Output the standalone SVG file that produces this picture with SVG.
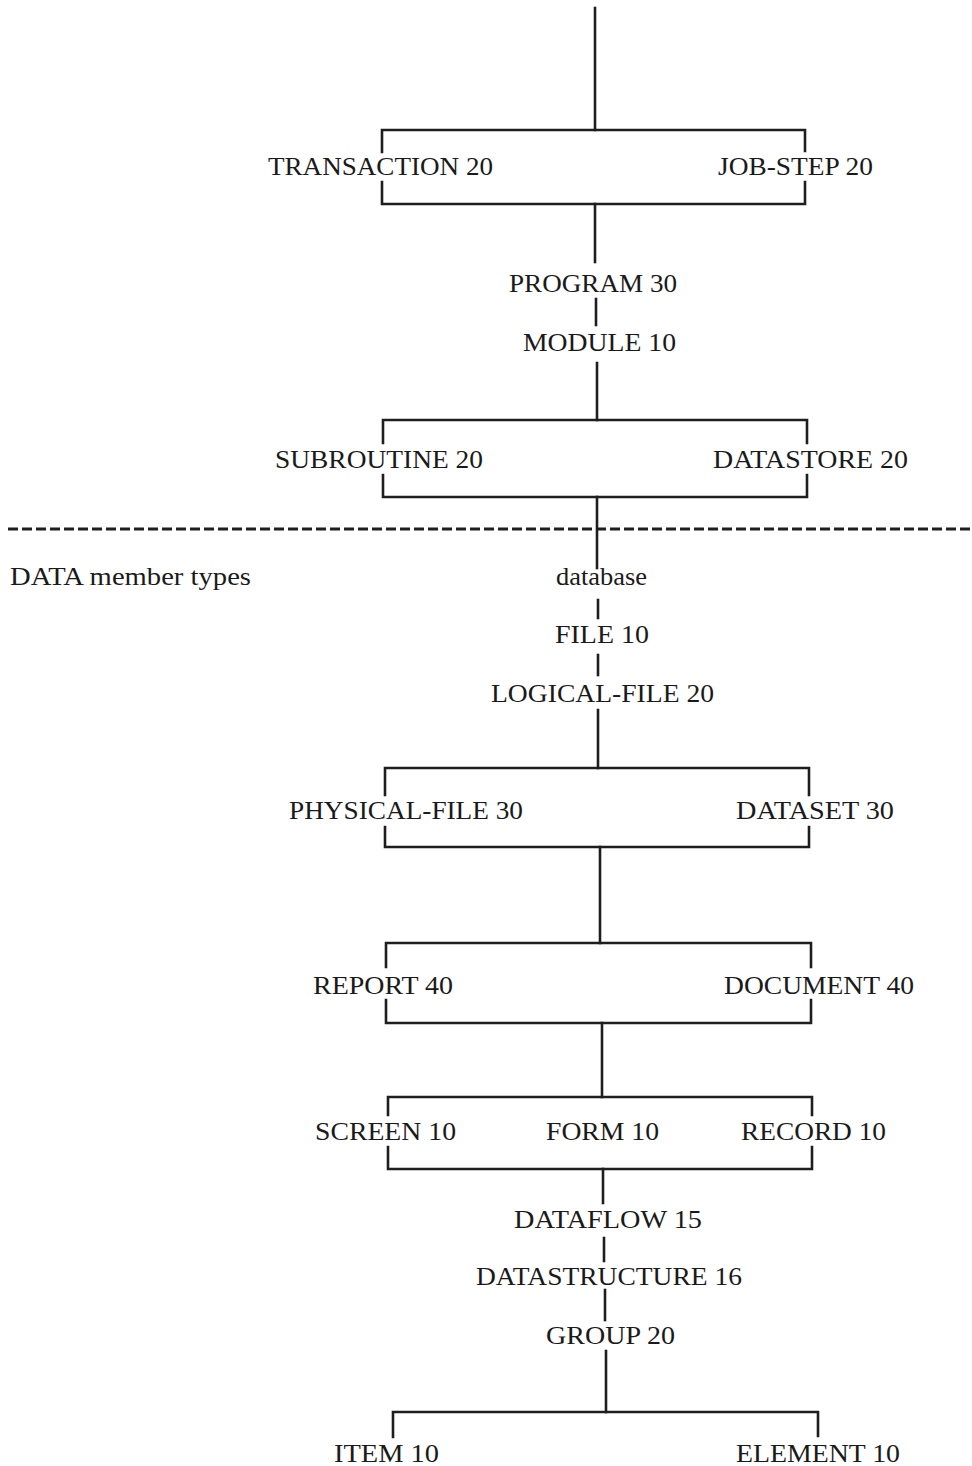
<svg xmlns="http://www.w3.org/2000/svg" width="972" height="1466" viewBox="0 0 972 1466">
<style>
.ln{stroke:#1e1e1e;stroke-width:2.6;fill:none;stroke-linecap:square}
.dash{stroke:#1e1e1e;stroke-width:3.2;fill:none;stroke-dasharray:10 4}
text{font-family:"Liberation Serif","Times New Roman",serif;font-size:26px;fill:#1a1a1a}
</style>
<rect width="972" height="1466" fill="#ffffff"/>
<g id="connectors">
  <line class="ln" x1="595" y1="8" x2="595" y2="130"/>
  <path class="ln" d="M382 152 V130 H805 V151"/>
  <path class="ln" d="M382 182 V204 H805 V182"/>
  <line class="ln" x1="595" y1="204" x2="595" y2="262"/>
  <line class="ln" x1="596" y1="299" x2="596" y2="325"/>
  <line class="ln" x1="597" y1="363" x2="597" y2="420"/>
  <path class="ln" d="M383 443 V420 H807 V443"/>
  <path class="ln" d="M383 475 V497 H807 V475"/>
  <line class="ln" x1="597" y1="497" x2="597" y2="568"/>
  <line class="dash" x1="8" y1="529" x2="972" y2="529"/>
  <line class="ln" x1="598" y1="600" x2="598" y2="618"/>
  <line class="ln" x1="598" y1="655" x2="598" y2="675"/>
  <line class="ln" x1="598" y1="710" x2="598" y2="768"/>
  <path class="ln" d="M385 795 V768 H809 V795"/>
  <path class="ln" d="M385 827 V847 H809 V827"/>
  <line class="ln" x1="600" y1="847" x2="600" y2="943"/>
  <path class="ln" d="M386 967 V943 H811 V967"/>
  <path class="ln" d="M386 1000 V1023 H811 V1000"/>
  <line class="ln" x1="602" y1="1023" x2="602" y2="1097"/>
  <path class="ln" d="M388 1115 V1097 H812 V1115"/>
  <path class="ln" d="M388 1147 V1169 H812 V1147"/>
  <line class="ln" x1="603" y1="1169" x2="603" y2="1203"/>
  <line class="ln" x1="604" y1="1238" x2="604" y2="1261"/>
  <line class="ln" x1="605" y1="1290" x2="605" y2="1320"/>
  <line class="ln" x1="606" y1="1351" x2="606" y2="1412"/>
  <path class="ln" d="M393 1437 V1412 H818 V1436"/>
</g>
<g id="n-transaction"><text x="268" y="175" textLength="225" lengthAdjust="spacingAndGlyphs">TRANSACTION 20</text></g>
<g id="n-jobstep"><text x="718" y="175" textLength="155" lengthAdjust="spacingAndGlyphs">JOB-STEP 20</text></g>
<g id="n-program"><text x="509" y="292" textLength="168" lengthAdjust="spacingAndGlyphs">PROGRAM 30</text></g>
<g id="n-module"><text x="523" y="351" textLength="153" lengthAdjust="spacingAndGlyphs">MODULE 10</text></g>
<g id="n-subroutine"><text x="275" y="468" textLength="208" lengthAdjust="spacingAndGlyphs">SUBROUTINE 20</text></g>
<g id="n-datastore"><text x="713" y="468" textLength="195" lengthAdjust="spacingAndGlyphs">DATASTORE 20</text></g>
<g id="n-datamember"><text x="10" y="585" textLength="241" lengthAdjust="spacingAndGlyphs">DATA member types</text></g>
<g id="n-database"><text x="556" y="585" textLength="91" lengthAdjust="spacingAndGlyphs">database</text></g>
<g id="n-file"><text x="555" y="643" textLength="94" lengthAdjust="spacingAndGlyphs">FILE 10</text></g>
<g id="n-logicalfile"><text x="491" y="702" textLength="223" lengthAdjust="spacingAndGlyphs">LOGICAL-FILE 20</text></g>
<g id="n-physicalfile"><text x="289" y="819" textLength="234" lengthAdjust="spacingAndGlyphs">PHYSICAL-FILE 30</text></g>
<g id="n-dataset"><text x="736" y="819" textLength="158" lengthAdjust="spacingAndGlyphs">DATASET 30</text></g>
<g id="n-report"><text x="313" y="994" textLength="140" lengthAdjust="spacingAndGlyphs">REPORT 40</text></g>
<g id="n-document"><text x="724" y="994" textLength="190" lengthAdjust="spacingAndGlyphs">DOCUMENT 40</text></g>
<g id="n-screen"><text x="315" y="1140" textLength="141" lengthAdjust="spacingAndGlyphs">SCREEN 10</text></g>
<g id="n-form"><text x="546" y="1140" textLength="113" lengthAdjust="spacingAndGlyphs">FORM 10</text></g>
<g id="n-record"><text x="741" y="1140" textLength="145" lengthAdjust="spacingAndGlyphs">RECORD 10</text></g>
<g id="n-dataflow"><text x="514" y="1228" textLength="188" lengthAdjust="spacingAndGlyphs">DATAFLOW 15</text></g>
<g id="n-datastructure"><text x="476" y="1285" textLength="266" lengthAdjust="spacingAndGlyphs">DATASTRUCTURE 16</text></g>
<g id="n-group"><text x="546" y="1344" textLength="129" lengthAdjust="spacingAndGlyphs">GROUP 20</text></g>
<g id="n-item"><text x="334" y="1462" textLength="105" lengthAdjust="spacingAndGlyphs">ITEM 10</text></g>
<g id="n-element"><text x="736" y="1462" textLength="164" lengthAdjust="spacingAndGlyphs">ELEMENT 10</text></g>
</svg>
